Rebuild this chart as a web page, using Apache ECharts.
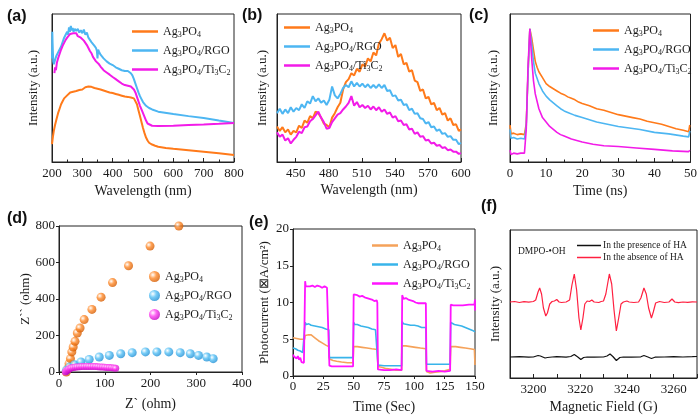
<!DOCTYPE html>
<html><head><meta charset="utf-8">
<script src="https://cdn.jsdelivr.net/npm/echarts@6/dist/echarts.min.js"></script>
<style>html,body{margin:0;padding:0;background:#fff}#c{width:700px;height:416px}</style>
</head><body><div id="c"></div>
<script>
// ---------- (a) UV-vis absorbance ----------
const uvAg3PO4 = [[200,12],[203,17],[206,21],[210,25],[215,29],[220,33],[225,36],[230,39],[235,41],[240,43],[245,44],[250,45],[255,46],[260,47],[265,46.5],[270,47.5],[275,47],[280,48],[285,47.6],[290,48.6],[295,48.2],[300,49],[305,50],[310,50.5],[315,50],[320,51],[325,50.4],[330,50.8],[335,50.1],[340,50],[350,49.5],[360,49],[370,48.3],[380,47.6],[390,47],[400,46.6],[410,46],[420,45.4],[430,44.8],[440,44.2],[450,44],[460,43.6],[470,43],[475,42],[480,39],[485,35],[490,31],[495,27],[500,23],[505,19.5],[510,16.5],[515,14.5],[520,13],[530,11.8],[540,11],[550,10.3],[575,9.5],[600,8.9],[650,7.9],[700,6.9],[750,5.9],[800,4.8]];
const uvRGO = [[200,70],[201,88],[202,80],[204,68],[206,66],[210,69],[215,72],[220,74],[225,76],[230,78],[235,81],[240,84],[245,85],[250,88],[253,86],[256,91],[259,88],[262,92],[265,89],[268,90.5],[271,88],[275,90],[280,88.5],[285,90],[290,87.5],[295,89],[300,87],[305,89.5],[310,86],[315,87.5],[320,84],[325,83],[330,81],[335,80],[340,78.5],[345,77],[348,75],[350,70],[352,76],[355,74.5],[360,72.5],[370,70],[380,68],[390,66.5],[400,65.5],[410,64],[420,63],[430,62],[440,61.5],[450,61.5],[455,61],[460,60],[465,58.5],[470,56],[475,53],[480,50],[485,47],[490,44.5],[495,42.5],[500,40.5],[510,38],[520,36.5],[530,35.5],[550,34],[600,32.4],[650,31],[700,29.7],[750,28],[800,26.4]];
const uvTi = [[208,60],[210,64],[213,62],[216,67],[220,70],[225,73],[230,76],[235,78.5],[240,80.5],[245,82.5],[250,84],[255,85],[260,86.5],[265,85.5],[270,87],[275,86],[280,87],[285,85],[290,86],[295,84],[300,84.5],[305,82],[310,81],[315,79],[320,77],[325,75],[330,73.5],[335,71],[340,70],[345,68],[350,67],[355,66],[360,64.5],[370,62],[380,60.5],[390,59],[400,57.4],[410,56],[420,54.5],[430,53],[440,52],[450,51.5],[460,51],[470,49],[475,47],[480,44],[485,41],[490,38],[495,35.5],[500,33],[505,30.5],[510,28],[515,26],[520,25],[530,24.5],[550,24.3],[600,24.5],[650,25],[700,25.3],[750,25.8],[800,26.4]];

// ---------- (b) PL spectra ----------
const plAg3PO4 = [[433,24],[435.5,21],[438,23.5],[440.5,20],[443,22],[445.5,18.5],[448,21],[450.5,20],[453,24.5],[455.5,23],[458,28],[460.5,26.5],[463,31],[465.5,29.5],[468,34],[470.5,33],[473,30],[475.5,26],[478,25],[480.5,23.5],[483,30],[485.5,33],[488,37],[490.5,40],[493,49],[495.5,54],[498,56],[500.5,60],[503,58.5],[505.5,63],[508,61],[510.5,66],[513,64.5],[515.5,70],[518,68],[520.5,74],[523,72],[525.5,80],[528,83],[530.5,87],[533,82],[535.5,84],[538,77],[540.5,79],[543,71],[545.5,73],[548,66],[550.5,67],[553,61],[555.5,62],[558,55],[560.5,54],[563,48],[565.5,49],[568,43],[570.5,44],[573,39],[575.5,40],[578,35],[580.5,36.5],[583,32],[585.5,33],[588,28],[590.5,29.5],[593,25],[595.5,25.5],[598,21],[600,22]];
const plRGO = [[433,33],[435.5,36],[438,32.5],[440.5,35.5],[443,33],[445.5,37],[448,34],[450.5,36.5],[453,35],[455.5,39],[458,36.5],[460.5,41],[463,39.5],[465.5,44.5],[468,41],[470.5,43],[473,40],[475.5,41.5],[478,38.5],[480.5,42],[483,51],[485.5,45],[488,43],[490.5,46],[493,50],[495.5,52],[498,50.5],[500.5,54.5],[503,51],[505.5,53.5],[508,51],[510.5,53],[513,50.5],[515.5,52.5],[518,50],[520.5,52],[523,50],[525.5,52.5],[528,50],[530.5,52],[533,48],[535.5,48.5],[538,44.5],[540.5,45],[543,41.5],[545.5,42],[548,38.5],[550.5,39],[553,35],[555.5,36],[558,32.5],[560.5,33],[563,29.5],[565.5,29],[568,26],[570.5,27],[573,23.5],[575.5,24],[578,21],[580.5,22],[583,19],[585.5,19.5],[588,17],[590.5,17.5],[593,15],[595.5,15],[598,12],[600,13]];
const plTi = [[433,20],[435.5,17],[438,18.5],[440.5,14.5],[443,16],[445.5,12.5],[448,15],[450.5,17],[453,20.5],[455.5,19.5],[458,23.5],[460.5,24],[463,27.5],[465.5,29],[468,31.5],[470.5,34],[473,30],[475.5,27],[478,22.5],[480.5,23],[483,27],[485.5,29.5],[488,32],[490.5,33],[493,35.5],[495.5,37.5],[498,40],[500.5,44.5],[503,38],[505.5,40.5],[508,37],[510.5,38.5],[513,36.5],[515.5,38],[518,35.5],[520.5,37.5],[523,35],[525.5,37],[528,34],[530.5,35.5],[533,32.5],[535.5,33.5],[538,30],[540.5,31],[543,27.5],[545.5,28],[548,25],[550.5,25.5],[553,22],[555.5,22.5],[558,19],[560.5,20],[563,17],[565.5,17.5],[568,14.5],[570.5,15],[573,12.5],[575.5,13],[578,11],[580.5,11.5],[583,9.5],[585.5,10],[588,8],[590.5,8.5],[593,7],[595.5,7],[598,5.5],[600,6]];

// ---------- (c) TRPL decay ----------
const trAg3PO4 = [[0,25],[0.3,19],[1,19.5],[2,18.5],[3,19],[4,18.5],[4.5,26],[5,60],[5.5,90],[6,84],[6.5,76],[7,68],[7.5,64],[8,61],[9,57],[10,53],[11,51],[12,49.5],[13,48],[14,46.5],[15,45.5],[16,44],[17,43],[18,42],[19,40.5],[20,39.5],[22,38],[24,36],[26,35],[28,33.5],[30,32],[32,31],[34,30],[36,29],[38,27.5],[40,26.5],[42,25.5],[44,24],[46,22.5],[48,21.5],[49.5,20.5],[49.8,25]];
const trRGO = [[0,22],[0.3,16],[1,16.5],[2,15.5],[3,16],[4,15.5],[4.5,24],[5,60],[5.5,90],[6,80],[6.5,68],[7,60],[8,53],[9,48],[10,44.5],[11,42],[12,40],[13,38],[14,36],[15,34.5],[16,33.5],[18,31.5],[20,30],[22,28.5],[24,27],[26,26],[28,25],[30,24],[33,23],[36,22],[40,20],[44,19],[48,17.5],[49.5,17],[49.8,21]];
const trTi = [[0,8],[0.3,5],[1,6],[2,5.5],[3,6],[4,6],[4.5,22],[5,65],[5.5,90],[6,70],[6.5,55],[7,46],[8,36],[9,30],[10,27],[11,24],[12,22],[13,20],[14,18.5],[15,17.5],[17,15.5],[20,13.5],[23,12],[26,11],[30,10.5],[35,9.5],[40,8.5],[45,7.5],[49.5,7],[49.8,8]];

// ---------- (d) EIS Nyquist ----------
const eisAg3PO4 = [[16,0],[19,18],[22,46],[25,73],[28,110],[31,137],[35,168],[40,214],[46,241],[55,287],[72,343],[92,410],[117,490],[152,582],[199,690],[262,800]];
const eisRGO = [[16,9],[23,27],[34,40],[48,55],[66,69],[88,82],[110,91],[135,100],[160,106],[189,110],[214,110],[240,110],[265,106],[287,100],[305,91],[323,82],[337,73]];
const eisTi = [[14,0],[16,6],[18,10],[20,14],[22,17],[25,20],[28,23],[32,25],[36,27],[40,28],[45,29],[50,30],[55,30],[60,30.5],[65,30],[70,30],[75,30],[80,29.5],[85,29],[90,28],[95,27],[100,26],[105,25],[110,24],[115,23],[120,21.5],[124,20]];

// ---------- (e) transient photocurrent ----------
const ipAg3PO4 = [[0,5.2],[3,5.1],[6,5.0],[9.5,5.0],[10,5.5],[13,5.6],[15,5.6],[18,5.2],[21,4.8],[24,4.5],[27,4.2],[29.5,4.0],[30,2.3],[33,2.1],[36,2.0],[40,1.9],[45,1.8],[49.5,1.8],[50,4.0],[53,4.0],[57,3.9],[61,3.8],[65,3.7],[69.5,3.6],[70,1.3],[73,1.2],[77,1.0],[81,0.9],[85,0.8],[89.5,0.8],[90,4.1],[93,4.1],[97,4.0],[101,3.9],[105,3.8],[109.5,3.7],[110,0.6],[113,0.4],[117,0.5],[121,0.6],[125,0.7],[129.5,0.9],[130,4.0],[134,4.0],[138,3.9],[142,3.8],[146,3.7],[149.5,3.6],[150,1.5]];
const ipRGO = [[0,3.8],[2,3.7],[4,3.5],[6,3.4],[8,3.2],[9.5,3.1],[10,7.3],[11,7.0],[13,7.1],[15,6.9],[18,6.8],[21,6.7],[24,6.6],[27,6.4],[29.5,6.3],[30,2.5],[35,2.5],[40,2.5],[45,2.5],[49.5,2.5],[50,7.3],[51,7.0],[53,7.0],[56,6.8],[59,6.7],[62,6.6],[65,6.4],[68,6.3],[69.5,6.3],[70,1.5],[75,1.4],[80,1.4],[85,1.4],[89.5,1.4],[90,7.4],[91,7.1],[94,7.0],[97,6.9],[100,6.9],[103,6.8],[106,6.6],[109.5,6.6],[110,1.6],[115,1.6],[120,1.6],[125,1.6],[129.5,1.6],[130,7.3],[133,7.0],[136,6.9],[139,6.8],[142,6.6],[145,6.4],[148,6.2],[150,6.0]];
const ipTi = [[0,2.9],[1,2.6],[2,2.8],[3,2.4],[4,2.7],[5,2.2],[6,2.5],[7,1.9],[8,2.0],[9,1.8],[9.5,1.9],[10,12.9],[10.5,12.2],[12,12.4],[14,12.2],[16,12.3],[18,12.1],[20,12.3],[22,12.2],[24,12.0],[26,12.2],[28,12.0],[29.5,11.9],[30,1.4],[32,1.3],[35,1.3],[40,1.3],[45,1.3],[49.5,1.3],[50,11.1],[51,10.9],[53,11.0],[55,10.8],[57,10.9],[59,10.7],[61,10.6],[63,10.5],[65,10.4],[67,10.2],[69,10.3],[69.5,10.0],[70,0.9],[75,0.8],[80,0.8],[85,0.9],[89.5,0.8],[90,11.0],[91,10.5],[93,10.6],[95,10.4],[97,10.3],[99,10.2],[101,10.0],[103,9.9],[105,9.9],[107,9.9],[109.5,9.9],[110,0.7],[115,0.6],[120,0.7],[125,0.6],[129.5,0.7],[130,9.7],[132,9.6],[135,9.6],[140,9.6],[145,9.7],[149.5,9.7],[150,10.4],[150,8.9]];

// ---------- (f) ESR DMPO-•OH ----------
const esrPresence = [[3190,23],[3194,23.3],[3198,22.8],[3200,23],[3202,24.5],[3203,24],[3205,22],[3206,22.5],[3208,23],[3210,23.3],[3214,22.8],[3216,23.5],[3217.5,25.5],[3219,23],[3220.3,20.5],[3221.5,22.5],[3223,23],[3226,22.8],[3230,23],[3231.5,24],[3232.8,26],[3234,23.5],[3235.5,19.5],[3237,22.5],[3238.5,23],[3242,22.8],[3246,23.2],[3247.3,24.5],[3249,23],[3250.5,21.5],[3252,22.8],[3256,23],[3260,23.4],[3264,23],[3268,23.3],[3270,23.5]];
const esrAbsence = [[3190,78],[3192,78.5],[3194,77.5],[3196,78.3],[3198,77.8],[3200,78.5],[3201,80],[3202,88],[3202.7,92],[3203.5,86],[3204.3,72],[3205.3,64],[3206,67],[3207,76],[3208,78.5],[3209,79],[3210,80.5],[3211,78],[3212,77.5],[3214,78],[3215.5,80],[3216.5,95],[3217.5,106],[3218.5,90],[3219.5,62],[3220.3,50],[3221.2,62],[3222,76],[3223,79],[3224,78.5],[3225,80],[3226,78],[3228,77.5],[3229,78.5],[3230,79],[3231,86],[3232.5,106],[3233.5,96],[3234.5,70],[3235.5,49],[3236.5,62],[3237.5,76],[3238.5,78],[3240,79],[3241,78],[3243,77.5],[3245,78],[3246,82],[3247.3,92],[3248.3,86],[3249.3,72],[3250.5,62],[3251.3,68],[3252.3,77],[3254,78.5],[3256,77.5],[3258,78],[3259.3,81],[3260.5,78],[3262,77.3],[3264,78],[3266,77.6],[3268,78.2],[3270,78]];

// tick labels
const bTicks = [450,480,510,540,570,600];

const FONT = 'Liberation Serif';
const TXT = '#1a1a1a';
const OR = '#ff7a1a', BL = '#4db6f2', MG = '#f21be8';
const OR_E = '#f5a25a', BL_E = '#38b4ea', MG_E = '#ff14ff';

const chart = echarts.init(document.getElementById('c'), null, {renderer:'canvas'});

const grids = [
  {left:52, top:14, width:182, height:148},
  {left:277, top:14, width:184, height:148},
  {left:510, top:14, width:181, height:148},
  {left:59, top:226, width:183, height:146},
  {left:293, top:229, width:182, height:147},
  {left:510, top:230, width:187, height:148}
].map(g => Object.assign({show:true, borderColor:'#222', borderWidth:1, backgroundColor:'transparent'}, g));

const lab = {fontFamily:FONT, fontSize:13, color:TXT};
const nameStyle = {fontFamily:FONT, fontSize:14, color:TXT};
function xa(i, o) {
  return Object.assign({
    type:'value', gridIndex:i, nameLocation:'middle', nameTextStyle:nameStyle,
    axisLine:{show:true, onZero:false, lineStyle:{color:'#222', width:1}},
    axisTick:{show:true, inside:true, length:4, lineStyle:{color:'#222'}},
    minorTick:{show:false},
    axisLabel:Object.assign({margin:5}, lab),
    splitLine:{show:false}
  }, o);
}
function ya(i, o) {
  return Object.assign({
    type:'value', gridIndex:i, nameLocation:'middle', nameTextStyle:Object.assign({}, nameStyle, {fontSize:13}),
    axisLine:{show:true, onZero:false, lineStyle:{color:'#222', width:1}},
    axisTick:{show:false},
    axisLabel:{show:false},
    splitLine:{show:false}
  }, o);
}

const xAxis = [
  xa(0, {min:200, max:800, interval:100, name:'Wavelength (nm)', nameGap:22, minorTick:{show:true, splitNumber:2, length:2.5, lineStyle:{color:'#222'}}}),
  xa(1, {min:433, max:600, name:'Wavelength (nm)', nameGap:21,
         axisLabel:Object.assign({margin:5, customValues:bTicks}, lab),
         axisTick:{show:true, inside:true, length:4, customValues:bTicks, lineStyle:{color:'#222'}}}),
  xa(2, {min:0, max:50, interval:10, name:'Time (ns)', nameGap:22, minorTick:{show:true, splitNumber:2, length:2.5, lineStyle:{color:'#222'}}}),
  xa(3, {min:0, max:400, interval:100, name:'Z` (ohm)', nameGap:25, axisTick:{show:true, inside:false, length:3, lineStyle:{color:'#222'}}, axisLabel:Object.assign({margin:5}, lab)}),
  xa(4, {min:0, max:150, interval:25, name:'Time (Sec)', nameGap:24, axisTick:{show:true, inside:false, length:3, lineStyle:{color:'#222'}}, axisLabel:Object.assign({margin:4}, lab)}),
  xa(5, {min:3190, max:3270, interval:10, name:'Magnetic Field (G)', nameGap:22,
         axisLabel:Object.assign({margin:5, formatter:v => (v % 20 === 0 ? String(v) : '')}, lab)})
];
const yAxis = [
  ya(0, {min:0, max:100, name:'Intensity (a.u.)', nameGap:12}),
  ya(1, {min:0, max:100, name:'Intensity (a.u.)', nameGap:8}),
  ya(2, {min:0, max:100, name:'Intensity (a.u.)', nameGap:10}),
  ya(3, {min:0, max:800, interval:200, name:'Z`` (ohm)', nameGap:26, axisTick:{show:true, inside:false, length:3, lineStyle:{color:'#222'}}, axisLabel:Object.assign({show:true, margin:4}, lab)}),
  ya(4, {min:0, max:20, interval:5, name:'Photocurrent (\u22a0A/cm\u00b2)', nameGap:22, axisTick:{show:true, inside:false, length:3, lineStyle:{color:'#222'}}, axisLabel:Object.assign({show:true, margin:4}, lab)}),
  ya(5, {min:2, max:150, name:'Intensity (a.u.)', nameGap:8})
];

function line(name, idx, data, color, width) {
  return {type:'line', name, xAxisIndex:idx, yAxisIndex:idx, data, symbol:'none', showSymbol:false,
          lineStyle:{color, width}, itemStyle:{color}, z:3};
}
function sphere(c1, c2) {
  return {type:'radial', x:0.35, y:0.35, r:0.7, colorStops:[{offset:0, color:'#ffffff'},{offset:0.45, color:c1},{offset:1, color:c2}]};
}
function scat(name, data, color, size) {
  return {type:'scatter', name, xAxisIndex:3, yAxisIndex:3, data, symbol:'circle', symbolSize:size,
          itemStyle:{color}, clip:true, z:3};
}

const series = [
  line('a:Ag', 0, uvAg3PO4, OR, 2), line('a:RGO', 0, uvRGO, BL, 2), line('a:Ti', 0, uvTi, MG, 2),
  line('b:Ag', 1, plAg3PO4, OR, 2), line('b:RGO', 1, plRGO, BL, 2), line('b:Ti', 1, plTi, MG, 2),
  line('c:Ag', 2, trAg3PO4, OR, 1.6), line('c:RGO', 2, trRGO, BL, 1.6), line('c:Ti', 2, trTi, MG, 1.6),
  scat('d:Ag', eisAg3PO4, sphere('#ff8a2a', '#d25a00'), 9),
  scat('d:RGO', eisRGO, sphere('#55c0f5', '#1e8cd2'), 9),
  scat('d:Ti', eisTi, sphere('#ff40f0', '#c000c0'), 7),
  line('e:Ag', 4, ipAg3PO4, OR_E, 1.6), line('e:RGO', 4, ipRGO, BL_E, 1.6), line('e:Ti', 4, ipTi, MG_E, 1.8),
  line('f:pres', 5, esrPresence, '#111', 1.2), line('f:abs', 5, esrAbsence, '#ff2040', 1.2)
];

const labelMap = {
  Ag:'Ag{s|3}PO{s|4}', RGO:'Ag{s|3}PO{s|4}/RGO', Ti:'Ag{s|3}PO{s|4}/Ti{s|3}C{s|2}',
  pres:'In the presence of HA', abs:'In the absence of HA'
};
const rich = {s:{fontFamily:FONT, fontSize:8, lineHeight:8, verticalAlign:'bottom', color:TXT}};
function leg(p, left, top, extra) {
  return Object.assign({
    data:[p+':Ag', p+':RGO', p+':Ti'], left, top, orient:'vertical', selectedMode:false,
    icon:'rect', itemWidth:26, itemHeight:2.5, itemGap:4,
    formatter:n => labelMap[n.split(':')[1]],
    textStyle:{fontFamily:FONT, fontSize:12, lineHeight:15, color:TXT, rich}
  }, extra || {});
}
const legend = [
  leg('a', 127, 19), leg('b', 279, 15), leg('c', 588, 18),
  leg('d', 144, 264, {icon:'circle', itemWidth:11, itemHeight:11, itemGap:4}),
  leg('e', 367, 233),
  {data:['f:pres','f:abs'], left:572, top:235, orient:'vertical', selectedMode:false,
   icon:'rect', itemWidth:24, itemHeight:1.5, itemGap:1,
   formatter:n => labelMap[n.split(':')[1]],
   textStyle:{fontFamily:FONT, fontSize:9.5, lineHeight:11, color:TXT, padding:[0,0,0,-3]}}
];

const pl = {fontFamily:'Liberation Sans', fontSize:16, fontWeight:'bold', color:'#111'};
const title = [
  {text:'(a)', left:2, top:4, textStyle:pl},
  {text:'(b)', left:237, top:3, textStyle:pl},
  {text:'(c)', left:464, top:3, textStyle:pl},
  {text:'(d)', left:2, top:206, textStyle:pl},
  {text:'(e)', left:244, top:210, textStyle:pl},
  {text:'(f)', left:476, top:194, textStyle:pl},
  {text:'DMPO-\u2022OH', left:513, top:241, textStyle:{fontFamily:FONT, fontSize:9.5, fontWeight:'normal', color:TXT}}
];

chart.setOption({animation:false, backgroundColor:'#fff', grid:grids, xAxis, yAxis, series, legend, title});
</script></body></html>
